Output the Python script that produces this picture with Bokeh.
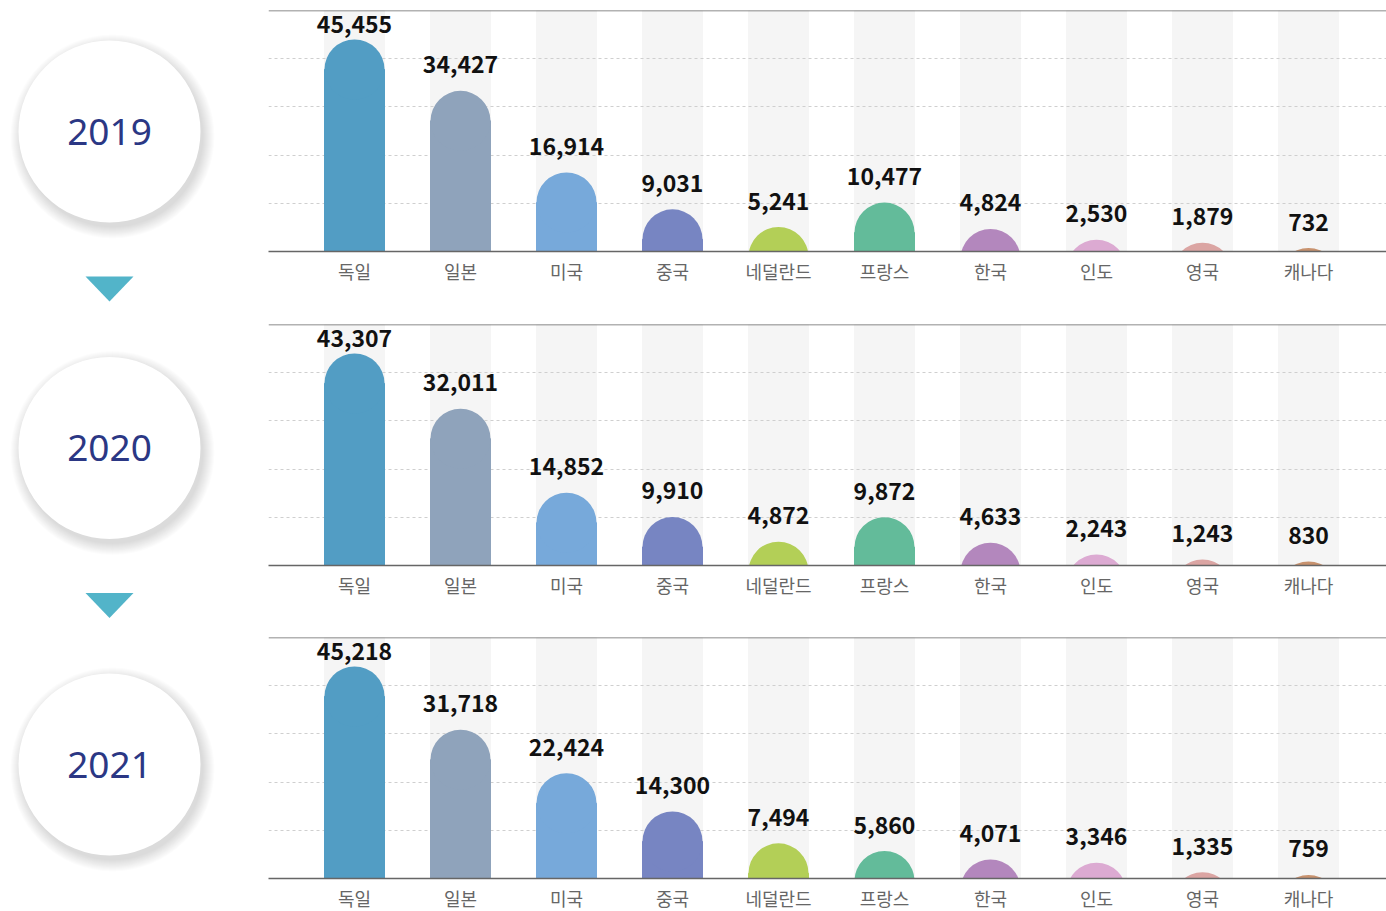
import numpy as np
from bokeh.plotting import figure
from bokeh.models import Range1d, FixedTicker, Grid, Span
from bokeh.layouts import row, column
from bokeh.embed import file_html
from bokeh.resources import INLINE
from bokeh.core.properties import value

categories = ["독일", "일본", "미국", "중국", "네덜란드", "프랑스", "한국", "인도", "영국", "캐나다"]
years = ["2019", "2020", "2021"]
values_2019 = [45455, 34427, 16914, 9031, 5241, 10477, 4824, 2530, 1879, 732]
values_2020 = [43307, 32011, 14852, 9910, 4872, 9872, 4633, 2243, 1243, 830]
values_2021 = [45218, 31718, 22424, 14300, 7494, 5860, 4071, 3346, 1335, 759]
colors = ["#529dc4", "#8fa3bb", "#77a9da", "#7785c2", "#b3cf57",
          "#63bb9a", "#b387bd", "#dcaad2", "#dba5a3", "#c8926e"]

FONT = "Noto Sans CJK KR"
FRAME_W = 1118
FRAME_H = 241
UNIT = 106.0
X0 = -86.0 / UNIT
X1 = (FRAME_W - 86.0) / UNIT
BAR_W = 60.0 / UNIT


def make_panel(vals, top_border, bottom_border):
    vals = np.array(vals, dtype=float)
    y_end = vals.max() / 0.88
    px = y_end / FRAME_H
    r = 30 * px
    x = np.arange(len(categories))
    bar_top = np.maximum(vals - r, 0)
    cap_y = vals - r
    label_y = np.minimum(vals + 26 * px, 227 * px)

    p = figure(frame_width=FRAME_W, frame_height=FRAME_H,
               x_range=Range1d(X0, X1), y_range=Range1d(0, y_end),
               output_backend="svg", toolbar_location=None,
               y_axis_location=None,
               min_border_left=0, min_border_right=0,
               min_border_top=top_border, min_border_bottom=bottom_border)
    p.outline_line_color = None
    p.xgrid.visible = False
    p.ygrid.visible = False

    p.vbar(x=x, top=y_end, bottom=0, width=BAR_W, color="#f5f5f5", level="image")
    p.add_layout(Grid(dimension=1, ticker=FixedTicker(ticks=[y_end * k / 5 for k in range(1, 5)]),
                      grid_line_color="#cfcfcf", grid_line_dash="3 3", grid_line_width=1))
    p.vbar(x=x, top=bar_top, bottom=0, width=BAR_W, color=colors)
    p.scatter(x=x, y=cap_y, size=60, marker="circle", color=colors, line_color=None)
    p.text(x=x, y=label_y, text=[f"{int(v):,}" for v in vals],
           text_align="center", text_baseline="alphabetic",
           text_font_size="23px", text_font_style="bold", text_color="#111111",
           text_font=value(FONT))
    p.add_layout(Span(location=y_end, dimension="width", line_color="#666666", line_width=1.5))

    ax = p.xaxis[0]
    ax.ticker = FixedTicker(ticks=list(range(len(categories))))
    ax.major_label_overrides = {i: c for i, c in enumerate(categories)}
    ax.major_label_text_font = FONT
    ax.major_label_text_font_size = "18px"
    ax.major_label_text_color = "#666666"
    ax.major_label_standoff = 0
    ax.axis_line_color = "#666666"
    ax.axis_line_width = 1.5
    ax.major_tick_line_color = None
    ax.minor_tick_line_color = None
    return p


panels = [make_panel(values_2019, 10, 62),
          make_panel(values_2020, 11, 61),
          make_panel(values_2021, 11, 30)]

# left column with year circles
H = 908
lf = figure(frame_width=268, frame_height=H, x_range=Range1d(0, 268), y_range=Range1d(H, 0),
            output_backend="svg", toolbar_location=None,
            x_axis_location=None, y_axis_location=None, min_border=0)
lf.outline_line_color = None
lf.xgrid.visible = False
lf.ygrid.visible = False
cx = 109
cys = [131 + 316.5 * i for i in range(len(years))]
for k in range(12, 0, -1):
    lf.scatter(x=[cx + 3] * len(cys), y=[c + 5 for c in cys], size=180 + 2 * k,
               marker="circle", color="black", alpha=0.012, line_color=None)
lf.scatter(x=[cx] * len(cys), y=cys, size=182, marker="circle", color="white", line_color=None)
lf.text(x=[cx] * len(cys), y=cys, text=years, text_align="center", text_baseline="middle",
        text_font_size="37px", text_color="#2b3784", text_font=value("Noto Sans"))
tri_xs, tri_ys = [], []
for i in range(len(years) - 1):
    top = cys[i] + 145
    tri_xs.append([cx - 24, cx + 24, cx])
    tri_ys.append([top, top, top + 25])
lf.patches(xs=tri_xs, ys=tri_ys, color="#52b4c9", line_color=None)

layout = row(lf, column(*panels))
open("out.html", "w").write(file_html(layout, INLINE))
